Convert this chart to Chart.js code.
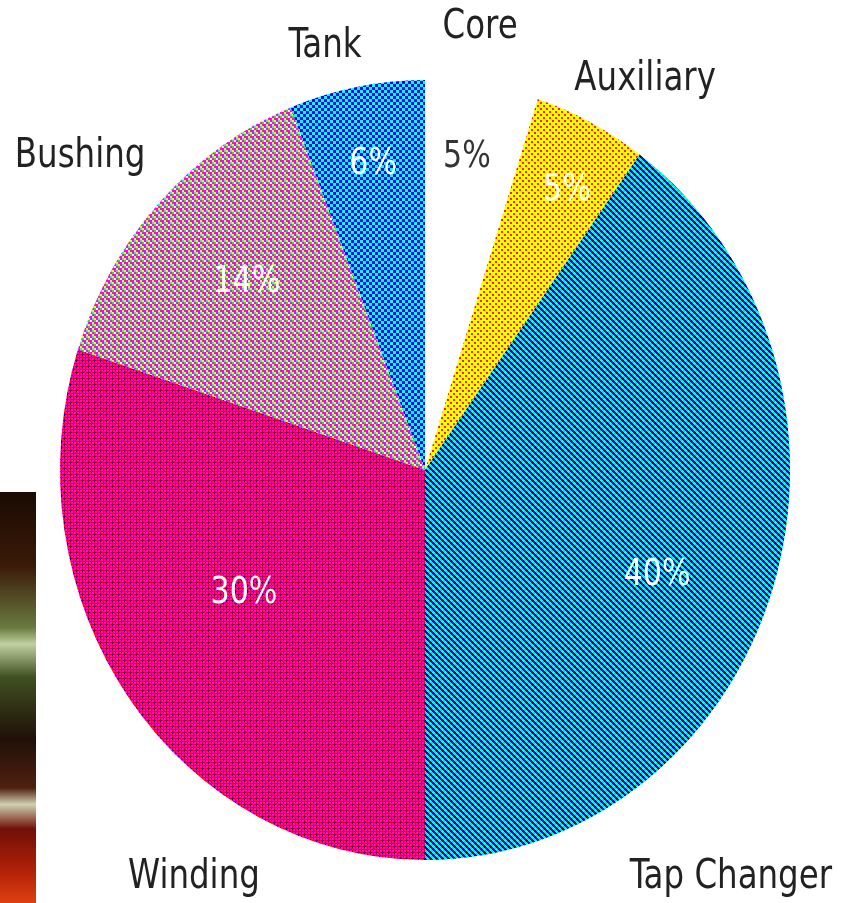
<!DOCTYPE html>
<html>
<head>
<meta charset="utf-8">
<script src="https://cdn.jsdelivr.net/npm/chart.js@4.4.1/dist/chart.umd.min.js"></script>
<style>
  html, body { margin: 0; padding: 0; background: #ffffff; overflow: hidden; }
  #wrap { position: relative; width: 841px; height: 903px; }
  #chart { position: absolute; left: 0; top: 0; }
  #strip { position: absolute; left: 0; top: 492px; width: 36px; height: 411px;
    background: linear-gradient(to bottom, #1a0a02 0%, #3a1a08 18%, #6a7a40 33%, #c0d0a0 37%, #405020 45%,
      #201008 60%, #502010 72%, #d0d0b0 76%, #701008 82%, #b02008 92%, #e04010 100%); }
</style>
</head>
<body>
<div id="wrap">
  <div id="strip"></div>
  <canvas id="chart" width="841" height="903" style="width:841px;height:903px;"></canvas>
</div>
<script>
// ---- data ----
const categories = ['Core', 'Auxiliary', 'Tap Changer', 'Winding', 'Bushing', 'Tank'];
const shares = [5, 5, 40, 30, 14, 6];
const percentLabels = ['5%', '5%', '40%', '30%', '14%', '6%'];

// ---- label layout (offsets from pie centre, in units of radius; y is text baseline) ----
const nameOffsets = [[0.151, -1.184], [0.603, -1.041], [0.838, 1.145], [-0.633, 1.145], [-0.945, -0.830], [-0.274, -1.132]];
const pctOffsets  = [[0.115, -0.830], [0.389, -0.740], [0.636, 0.315], [-0.496, 0.364], [-0.488, -0.488], [-0.142, -0.811]];
const pctColors   = ['#333333', '#ffffff', '#ffffff', '#ffffff', '#ffffff', '#ffffff'];
const STRETCH_Y = 390 / 365;   // the reference pie is slightly taller than wide
const TEXT_SQUEEZE = 0.88;

// ---- dither patterns ----
const baseCtx = document.getElementById('chart').getContext('2d');
function makePattern(P, fn) {
  const c = document.createElement('canvas');
  c.width = P; c.height = P;
  const g = c.getContext('2d');
  for (let y = 0; y < P; y++) for (let x = 0; x < P; x++) {
    g.fillStyle = fn(x, y);
    g.fillRect(x, y, 1, 1);
  }
  return baseCtx.createPattern(c, 'repeat');
}
const lat = (x, y, P) => [((x + y) % P) < P / 2, ((x - y + P * 4) % P) < P / 2];

const pTap = makePattern(6, (x, y) => {
  const [a, b] = lat(x, y, 6);
  if (a && b) return '#00ffff';
  if (a && !b) return '#0000ff';
  if (!a && b) return '#00e0c0';
  return '#000000';
});
const pWinding = makePattern(6, (x, y) => {
  const [a, b] = lat(x, y, 6);
  if (a && b) return '#ff0000';
  if (a && !b) return '#ff00ff';
  if (!a && b) return '#ff00c0';
  return (x % 3 === 1 && y % 3 === 1) ? '#000044' : '#2000ff';
});
const pTank = makePattern(6, (x, y) => ((Math.floor(x / 3) + Math.floor(y / 3)) % 2) ? '#0000ff' : '#00ffff');
const pAux = makePattern(6, (x, y) => {
  const d1 = (x % 6 < 2) && (y % 6 < 2);
  const d2 = ((x + 3) % 6 < 2) && ((y + 3) % 6 < 2);
  return (d1 || d2) ? '#ff2000' : '#ffff00';
});
const bushGrid = [['#ff00ff', '#00ffff', '#ffff00'], ['#ffffff', '#ff00ff', '#00ff00'], ['#ff00ff', '#ffff00', '#ff00ff']];
const pBush = makePattern(6, (x, y) => bushGrid[Math.floor(y / 2)][Math.floor(x / 2)]);
const patterns = [pAux, pTap, pWinding, pBush, pTank];
const sliceFills = ['#ffffff', pAux, pTap, pWinding, pBush, pTank];

const FONT = '"Liberation Sans Narrow", "DejaVu Sans Condensed", "Arial Narrow", sans-serif';

// stretch the pie vertically around its centre, keeping the dither patterns pixel-aligned
const stretchPlugin = {
  id: 'stretch',
  beforeDatasetsDraw(chart) {
    const arc = chart.getDatasetMeta(0).data[0];
    if (!arc) return;
    const cx = arc.x, cy = arc.y;
    const inv = new DOMMatrix().translate(cx, cy).scale(1, 1 / STRETCH_Y).translate(-cx, -cy);
    patterns.forEach(p => p.setTransform(inv));
    const ctx = chart.ctx;
    ctx.save();
    ctx.translate(cx, cy);
    ctx.scale(1, STRETCH_Y);
    ctx.translate(-cx, -cy);
  },
  afterDatasetsDraw(chart) {
    chart.ctx.restore();
  }
};

const labelPlugin = {
  id: 'sliceLabels',
  afterDraw(chart) {
    const ctx = chart.ctx;
    const meta = chart.getDatasetMeta(0);
    const put = (text, x, y) => {
      ctx.save();
      ctx.translate(x, y);
      ctx.scale(TEXT_SQUEEZE, 1);
      ctx.fillText(text, 0, 0);
      ctx.restore();
    };
    ctx.save();
    ctx.textAlign = 'center';
    ctx.textBaseline = 'alphabetic';
    meta.data.forEach((arc, i) => {
      const r = arc.outerRadius;
      ctx.font = '41px ' + FONT;
      ctx.fillStyle = '#222222';
      put(categories[i], arc.x + nameOffsets[i][0] * r, arc.y + nameOffsets[i][1] * r);
      ctx.font = '38px ' + FONT;
      ctx.fillStyle = pctColors[i];
      put(percentLabels[i], arc.x + pctOffsets[i][0] * r, arc.y + pctOffsets[i][1] * r);
    });
    ctx.restore();
  }
};

new Chart(document.getElementById('chart'), {
  type: 'pie',
  data: {
    labels: categories,
    datasets: [{
      data: shares,
      backgroundColor: sliceFills,
      borderWidth: 0,
      hoverOffset: 0
    }]
  },
  options: {
    responsive: false,
    animation: false,
    devicePixelRatio: 1,
    layout: { padding: { left: 60, right: 51, top: 105, bottom: 68 } },
    plugins: { legend: { display: false }, tooltip: { enabled: false } },
    events: []
  },
  plugins: [stretchPlugin, labelPlugin]
});
</script>
</body>
</html>
